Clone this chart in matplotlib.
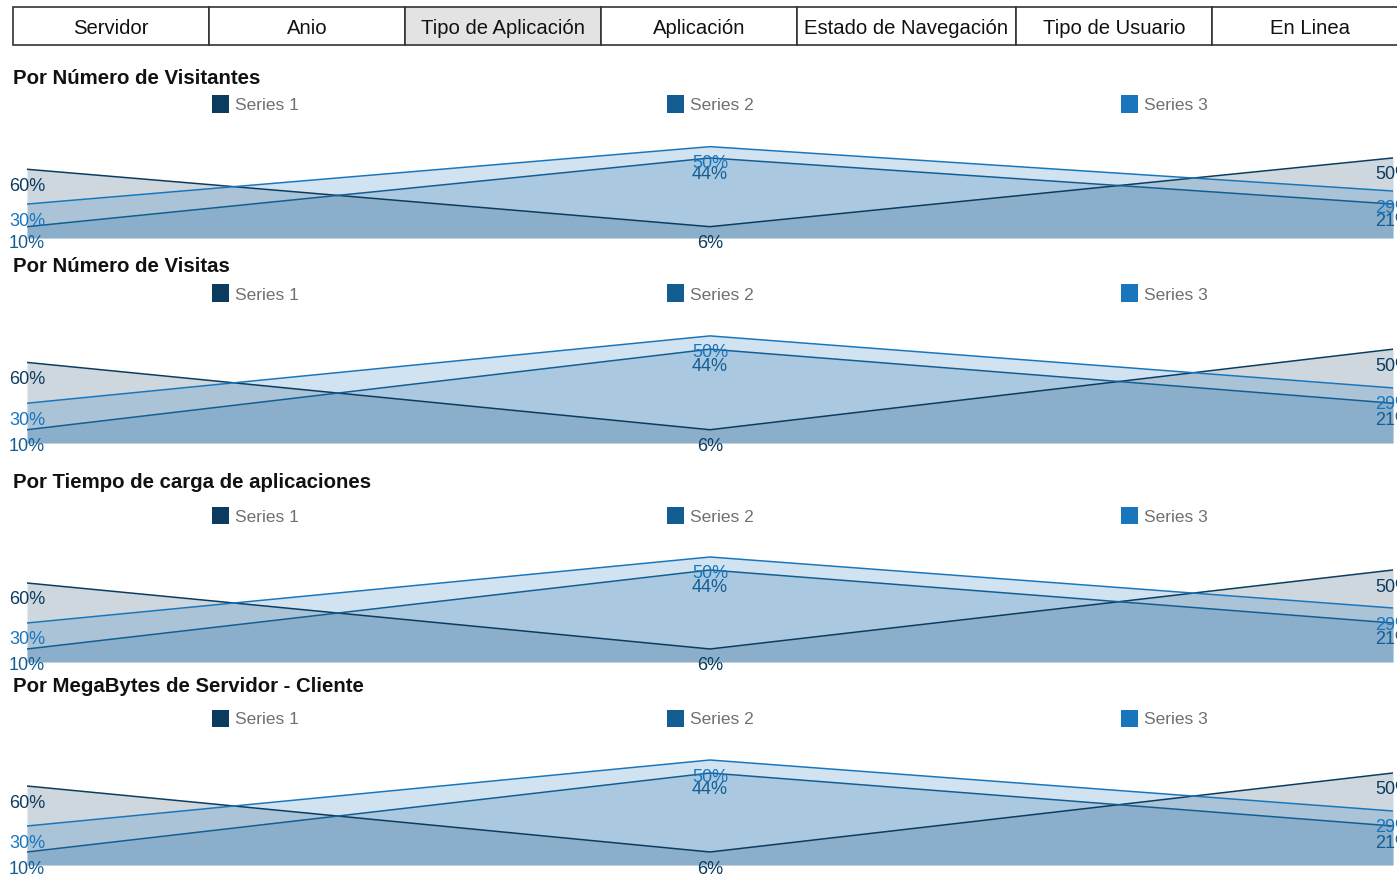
import numpy as np
import matplotlib.pyplot as plt
from matplotlib.patches import Rectangle

plt.rcParams['font.family'] = ['Liberation Sans', 'DejaVu Sans']

# data
tabs = ['Servidor', 'Anio', 'Tipo de Aplicación', 'Aplicación',
        'Estado de Navegación', 'Tipo de Usuario', 'En Linea']
selected_tab = 2
titles = ['Por Número de Visitantes', 'Por Número de Visitas',
          'Por Tiempo de carga de aplicaciones', 'Por MegaBytes de Servidor - Cliente']
series_names = ['Series 1', 'Series 2', 'Series 3']
series1 = [79, 13, 92]
series2 = [13, 92, 39]
series3 = [39, 105, 54]
colors = ['#0b3b5e', '#135d92', '#1a76bc']

W, H = 1397, 876
fig = plt.figure(figsize=(W / 100, H / 100), dpi=100)


def fx(x):
    return x / W


def fy(y):
    return 1 - y / H


# tab bar
tab_edges = [13, 209, 405, 601, 797, 1016, 1212, 1408]
for i, name in enumerate(tabs):
    x0, x1 = tab_edges[i], tab_edges[i + 1]
    fc = '#e3e3e3' if i == selected_tab else 'white'
    fig.add_artist(Rectangle((fx(x0), fy(45)), fx(x1 - x0), 38 / H,
                             transform=fig.transFigure, facecolor=fc,
                             edgecolor='#333333', lw=1.2))
    fig.text(fx((x0 + x1) / 2), fy(28), name, ha='center', va='center',
             fontsize=14.6, color='#111111')

# panel layout: title y, legend y, baseline y, px per unit
panels = [(77, 104, 238, 0.87), (265, 293, 443, 1.02),
          (481, 515, 662, 1.0), (684, 718, 865, 1.0)]
legend_x = [212, 667, 1121]

data = np.array([series1, series2, series3], dtype=float)
pct = np.round(data / data.sum(axis=0) * 100).astype(int)
xs = np.arange(data.shape[1])

for title, (ty, ly, base, scale) in zip(titles, panels):
    fig.text(fx(13), fy(ty + 2), title, ha='left', va='center',
             fontsize=14.7, fontweight='bold', color='#111111')
    for lx, name, c in zip(legend_x, series_names, colors):
        fig.add_artist(Rectangle((fx(lx), fy(ly + 8.5)), 17 / W, 17 / H,
                                 transform=fig.transFigure, facecolor=c, lw=0))
        fig.text(fx(lx + 23), fy(ly + 2), name, ha='left', va='center',
                 fontsize=12.5, color='#707070')

    ax = fig.add_axes([fx(27), fy(base), fx(1393 - 27), 130 / H])
    for vals, p, c in zip(data, pct, colors):
        ax.fill_between(xs, 0, vals, color=c, alpha=0.2, lw=0)
        ax.plot(xs, vals, color=c, lw=1.1)
        for xi, v, pi in zip(xs, vals, p):
            ax.annotate(f'{pi}%', (xi, v), xytext=(0, -17),
                        textcoords='offset pixels', ha='center', va='center',
                        fontsize=13, color=c, annotation_clip=False)
    ax.set_xlim(0, 2)
    ax.set_ylim(0, 130 / scale)
    ax.axis('off')

fig.savefig('out.png', dpi=100)
